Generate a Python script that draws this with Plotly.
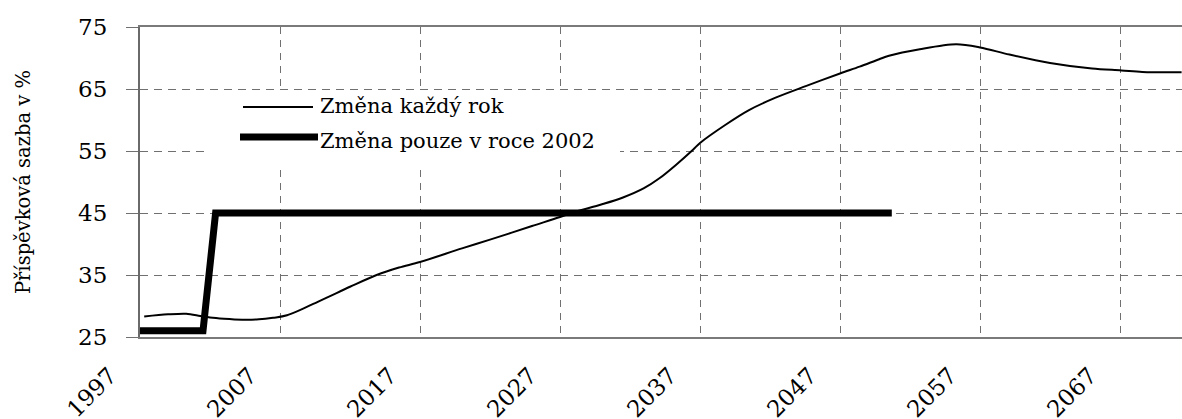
import plotly.graph_objects as go

# ---- data ----
years_each = [1997.3, 1999.0, 2000.3, 2001.3, 2002.0, 2003.0, 2004.3, 2005.5, 2006.5, 2007.5,
              2010.0, 2012.0, 2013.9, 2015.5, 2017.0, 2020.0, 2022.0, 2025.0, 2027.0, 2027.8,
              2030.0, 2031.5, 2033.0, 2034.1, 2035.3, 2036.5, 2037.0, 2038.8, 2040.5, 2042.4,
              2044.6, 2047.0, 2048.4, 2049.8, 2050.5, 2052.7, 2055.3, 2057.0, 2059.1, 2062.0,
              2065.0, 2067.1, 2068.6, 2071.4]
vals_each = [28.3, 28.65, 28.75, 28.4, 28.15, 27.95, 27.8, 27.85, 28.1, 28.5,
             31.0, 33.1, 35.0, 36.2, 37.1, 39.3, 40.7, 42.9, 44.35, 45.0,
             46.4, 47.5, 49.0, 50.6, 52.8, 55.2, 56.3, 59.2, 61.6, 63.6,
             65.5, 67.5, 68.6, 69.8, 70.35, 71.4, 72.2, 71.7, 70.55, 69.2,
             68.3, 68.0, 67.75, 67.7]

years_once = [1997, 2001.5, 2002.4, 2050.7]
vals_once = [26, 26, 45, 45]

series_names = ["Změna každý rok", "Změna pouze v roce 2002"]
x_ticks = [1997, 2007, 2017, 2027, 2037, 2047, 2057, 2067]
x_tick_labels = ["1997", "2007", "2017", "2027", "2037", "2047", "2057", "2067"]
y_ticks = [25, 35, 45, 55, 65, 75]
y_tick_labels = ["25", "35", "45", "55", "65", "75"]
y_title = "Příspěvková sazba v %"

# ---- layout geometry (pixels) ----
W, H = 1182, 419
ML, MR, MT, MB = 140, 0, 27, 82
PW = W - ML - MR
PH = H - MT - MB


def px_x(px):
    return (px - ML) / PW


def px_y(py):
    return (H - MB - py) / PH


FONT = "DejaVu Serif"

fig = go.Figure()
fig.add_trace(go.Scatter(x=years_each, y=vals_each, mode="lines", name=series_names[0],
                         line=dict(color="black", width=2, shape="spline", smoothing=0.9),
                         showlegend=False))
fig.add_trace(go.Scatter(x=years_once, y=vals_once, mode="lines", name=series_names[1],
                         line=dict(color="black", width=7), showlegend=False))

grid = "#707070"
fig.update_xaxes(range=[1997, 1997 + PW / 14.0], tickvals=x_ticks, ticktext=x_tick_labels,
                 tickangle=-45, showgrid=True, gridcolor=grid, griddash="7px,6px", gridwidth=1,
                 showline=True, linecolor="#7a7a7a", linewidth=2, mirror=True,
                 ticks="", zeroline=False, automargin=False,
                 tickfont=dict(family=FONT, size=23, color="black"),
                 ticklabelstandoff=14, ticklabelshift=-30)
fig.update_yaxes(range=[25, 75], tickvals=y_ticks, ticktext=y_tick_labels,
                 showgrid=True, gridcolor=grid, griddash="8px,6px", gridwidth=1,
                 showline=True, linecolor="#6a6a6a", linewidth=2, mirror=False,
                 ticks="outside", ticklen=12, tickcolor=grid, tickwidth=1, zeroline=False,
                 automargin=False,
                 tickfont=dict(family=FONT, size=23, color="black"),
                 ticklabelstandoff=14,
                 title=dict(text=y_title, font=dict(family=FONT, size=19.5, color="black"),
                            standoff=42))

# legend (drawn manually to match the long sample lines)
fig.add_shape(type="rect", xref="paper", yref="paper", x0=px_x(210), x1=px_x(620),
              y0=px_y(166), y1=px_y(91), fillcolor="white", line=dict(width=0), layer="above")
fig.add_shape(type="line", xref="paper", yref="paper", x0=px_x(243), x1=px_x(313),
              y0=px_y(107), y1=px_y(107), line=dict(color="black", width=2), layer="above")
fig.add_shape(type="line", xref="paper", yref="paper", x0=px_x(240), x1=px_x(318),
              y0=px_y(137), y1=px_y(137), line=dict(color="black", width=7), layer="above")
for name, cy in zip(series_names, [106, 141]):
    fig.add_annotation(xref="paper", yref="paper", x=px_x(318), y=px_y(cy), text=name,
                       showarrow=False, xanchor="left", yanchor="middle",
                       font=dict(family=FONT, size=21, color="black"))

fig.update_layout(width=W, height=H, margin=dict(l=ML, r=MR, t=MT, b=MB),
                  plot_bgcolor="white", paper_bgcolor="white", showlegend=False)

post = """
document.body.style.margin='0';
var s=document.createElement('style');
s.innerHTML='body{margin:0}';
document.head.appendChild(s);
"""
fig.write_html("out.html", post_script=post, config={"displayModeBar": False})
